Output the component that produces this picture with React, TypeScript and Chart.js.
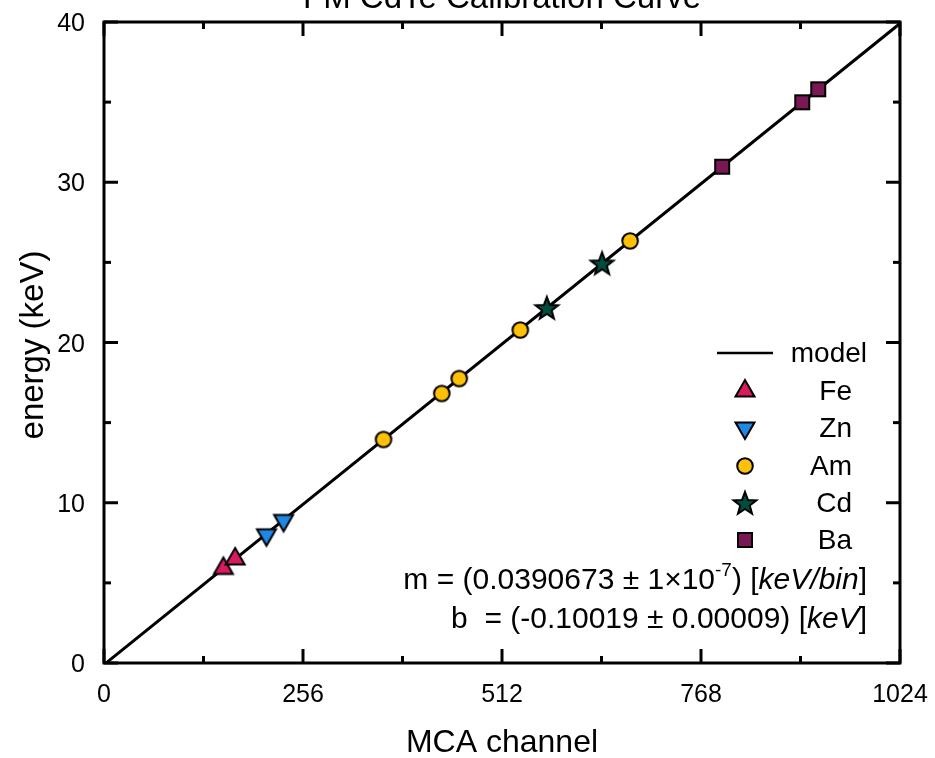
import React, { useEffect, useRef } from "react";
import { Chart, registerables } from "chart.js";

Chart.register(...registerables);

// ---------- data ----------
const TITLE = "FM CdTe Calibration Curve";
const X_TITLE = "MCA channel";
const Y_TITLE = "energy (keV)";

const X_MAJOR = [0, 256, 512, 768, 1024];
const X_MINOR = [128, 384, 640, 896];
const Y_MAJOR = [0, 10, 20, 30, 40];
const Y_MINOR = [5, 15, 25, 35];
const X_TICK_LABELS = ["0", "256", "512", "768", "1024"];
const Y_TICK_LABELS = ["0", "10", "20", "30", "40"];

const feChannels = [153.6, 168.7];
const feEnergies = [5.9, 6.49];
const znChannels = [209.0, 231.0];
const znEnergies = [8.0, 8.9];
const amChannels = [359.6, 434.5, 457.0, 535.5, 676.8];
const amEnergies = [13.95, 16.82, 17.75, 20.78, 26.34];
const cdChannels = [569.7, 640.8];
const cdEnergies = [22.16, 24.94];
const baChannels = [795.2, 898.2, 918.8];
const baEnergies = [30.97, 34.99, 35.8];
const modelChannels = [0, 1024];
const modelEnergies = [-0.10019, 39.904];

const SERIES = ["Fe", "Zn", "Am", "Cd", "Ba"];
const SERIES_COLORS = ["#D81B60", "#1E88E5", "#FFC107", "#004D40", "#7A1855"];

const FONT = "'Liberation Sans', Arial, Helvetica, sans-serif";

// ---------- markers ----------
function makeMarker(shape: string, fill: string): HTMLCanvasElement {
  const size = 32;
  const c = document.createElement("canvas");
  c.width = size;
  c.height = size;
  const ctx = c.getContext("2d")!;
  const cx = size / 2;
  const cy = size / 2;
  ctx.fillStyle = fill;
  ctx.strokeStyle = "#000";
  ctx.lineWidth = 2;
  ctx.lineJoin = "miter";
  ctx.beginPath();
  if (shape === "circle") {
    ctx.arc(cx, cy, 7.8, 0, Math.PI * 2);
  } else if (shape === "triUp" || shape === "triDown") {
    const w = 19;
    const h = (w * Math.sqrt(3)) / 2;
    const s = shape === "triUp" ? 1 : -1;
    ctx.moveTo(cx, cy - (s * 2 * h) / 3);
    ctx.lineTo(cx + w / 2, cy + (s * h) / 3);
    ctx.lineTo(cx - w / 2, cy + (s * h) / 3);
    ctx.closePath();
  } else if (shape === "square") {
    ctx.rect(cx - 7, cy - 7, 14, 14);
  } else if (shape === "star") {
    const R = 12;
    const r = 5;
    for (let i = 0; i < 10; i++) {
      const ang = -Math.PI / 2 + (i * Math.PI) / 5;
      const rad = i % 2 === 0 ? R : r;
      const px = cx + rad * Math.cos(ang);
      const py = cy + 1 + rad * Math.sin(ang);
      if (i === 0) ctx.moveTo(px, py);
      else ctx.lineTo(px, py);
    }
    ctx.closePath();
  }
  ctx.fill();
  ctx.stroke();
  return c;
}

function drawRich(
  ctx: CanvasRenderingContext2D,
  parts: { t: string; kind: string }[],
  rightX: number,
  midY: number,
  size: number
) {
  const fontFor = (k: string) =>
    k === "italic"
      ? `italic ${size}px ${FONT}`
      : k === "sup"
      ? `${Math.round(size * 0.62)}px ${FONT}`
      : `${size}px ${FONT}`;
  let total = 0;
  const widths = parts.map((p) => {
    ctx.font = fontFor(p.kind);
    const w = ctx.measureText(p.t).width;
    total += w;
    return w;
  });
  let x = rightX - total;
  ctx.textAlign = "left";
  ctx.textBaseline = "alphabetic";
  const base = midY + size * 0.36;
  parts.forEach((p, i) => {
    ctx.font = fontFor(p.kind);
    ctx.fillText(p.t, x, p.kind === "sup" ? base - size * 0.42 : base);
    x += widths[i];
  });
}

export default function App() {
  const ref = useRef<HTMLCanvasElement | null>(null);

  useEffect(() => {
    const canvas = ref.current!;
    const markers = [
      makeMarker("triUp", SERIES_COLORS[0]),
      makeMarker("triDown", SERIES_COLORS[1]),
      makeMarker("circle", SERIES_COLORS[2]),
      makeMarker("star", SERIES_COLORS[3]),
      makeMarker("square", SERIES_COLORS[4]),
    ];
    const chans = [feChannels, znChannels, amChannels, cdChannels, baChannels];
    const ens = [feEnergies, znEnergies, amEnergies, cdEnergies, baEnergies];

    const pointSets = SERIES.map((name, i) => ({
      type: "scatter" as const,
      label: name,
      data: chans[i].map((c, j) => ({ x: c, y: ens[i][j] })),
      pointStyle: markers[i],
      pointRadius: 8,
      pointHoverRadius: 8,
      order: 0,
    }));

    const decor = {
      id: "decor",
      afterDraw(chart: any) {
        const ctx: CanvasRenderingContext2D = chart.ctx;
        const a = chart.chartArea;
        const xs = chart.scales.x;
        const ys = chart.scales.y;
        ctx.save();
        ctx.strokeStyle = "#000";
        ctx.lineWidth = 3;
        ctx.lineCap = "butt";
        const major = 14;
        const minor = 7;
        const tick = (x1: number, y1: number, x2: number, y2: number) => {
          ctx.beginPath();
          ctx.moveTo(x1, y1);
          ctx.lineTo(x2, y2);
          ctx.stroke();
        };
        X_MAJOR.forEach((v) => {
          const px = xs.getPixelForValue(v);
          tick(px, a.bottom, px, a.bottom - major);
          tick(px, a.top, px, a.top + major);
        });
        X_MINOR.forEach((v) => {
          const px = xs.getPixelForValue(v);
          tick(px, a.bottom, px, a.bottom - minor);
          tick(px, a.top, px, a.top + minor);
        });
        Y_MAJOR.forEach((v) => {
          const py = ys.getPixelForValue(v);
          tick(a.left, py, a.left + major, py);
          tick(a.right, py, a.right - major, py);
        });
        Y_MINOR.forEach((v) => {
          const py = ys.getPixelForValue(v);
          tick(a.left, py, a.left + minor, py);
          tick(a.right, py, a.right - minor, py);
        });
        ctx.strokeRect(a.left, a.top, a.right - a.left, a.bottom - a.top);

        ctx.fillStyle = "#000";
        // tick labels
        ctx.font = `25px ${FONT}`;
        ctx.textBaseline = "alphabetic";
        ctx.textAlign = "center";
        X_MAJOR.forEach((v, i) => {
          ctx.fillText(X_TICK_LABELS[i], xs.getPixelForValue(v), 702);
        });
        ctx.textAlign = "right";
        Y_MAJOR.forEach((v, i) => {
          ctx.fillText(Y_TICK_LABELS[i], 85, ys.getPixelForValue(v) + 9);
        });

        // title (partially cut at the top)
        ctx.font = `33px ${FONT}`;
        ctx.textAlign = "center";
        ctx.textBaseline = "alphabetic";
        ctx.fillText(TITLE, (a.left + a.right) / 2, 8);
        // x title
        ctx.font = `32px ${FONT}`;
        ctx.fillText(X_TITLE, (a.left + a.right) / 2, 752);
        // y title
        ctx.save();
        ctx.font = `33px ${FONT}`;
        ctx.translate(43, 345);
        ctx.rotate(-Math.PI / 2);
        ctx.fillText(Y_TITLE, 0, 0);
        ctx.restore();

        // legend
        const rowY = [353, 391, 428, 466, 503, 540];
        ctx.lineWidth = 2.5;
        tick(717, rowY[0], 773, rowY[0]);
        ctx.font = `28px ${FONT}`;
        ctx.textAlign = "right";
        ctx.textBaseline = "middle";
        ctx.fillText("model", 867, rowY[0] + 1);
        SERIES.forEach((name, i) => {
          const m = markers[i];
          ctx.drawImage(m, 745 - m.width / 2, rowY[i + 1] - m.height / 2);
          ctx.fillText(name, 852, rowY[i + 1] + 1);
        });

        // fit annotation
        drawRich(
          ctx,
          [
            { t: "m = (0.0390673 \u00B1 1\u00D710", kind: "n" },
            { t: "-7", kind: "sup" },
            { t: ") [", kind: "n" },
            { t: "keV/bin", kind: "italic" },
            { t: "]", kind: "n" },
          ],
          867,
          578,
          30
        );
        drawRich(
          ctx,
          [
            { t: "b  = (-0.10019 \u00B1 0.00009) [", kind: "n" },
            { t: "keV", kind: "italic" },
            { t: "]", kind: "n" },
          ],
          867,
          617,
          30
        );
        ctx.restore();
      },
    };

    const chart = new Chart(canvas, {
      type: "scatter",
      data: {
        datasets: [
          ...pointSets,
          {
            type: "line" as const,
            label: "model",
            data: modelChannels.map((c, j) => ({ x: c, y: modelEnergies[j] })),
            borderColor: "#000",
            borderWidth: 3,
            pointRadius: 0,
            showLine: true,
            fill: false,
            order: 10,
          } as any,
        ],
      },
      options: {
        animation: false,
        responsive: false,
        devicePixelRatio: 1,
        layout: { padding: { top: 22, right: 35, left: 0, bottom: 0 } },
        plugins: {
          legend: { display: false },
          tooltip: { enabled: false },
          title: { display: false },
        },
        scales: {
          x: {
            type: "linear",
            min: 0,
            max: 1024,
            afterFit: (s: any) => {
              s.height = 95;
              s.paddingLeft = 0;
              s.paddingRight = 0;
            },
            ticks: { display: false },
            grid: { display: false, drawTicks: false },
            border: { display: false },
          },
          y: {
            type: "linear",
            min: 0,
            max: 40,
            afterFit: (s: any) => {
              s.width = 104;
              s.paddingTop = 0;
              s.paddingBottom = 0;
            },
            ticks: { display: false },
            grid: { display: false, drawTicks: false },
            border: { display: false },
          },
        },
      },
      plugins: [decor],
    } as any);

    return () => chart.destroy();
  }, []);

  return (
    <div style={{ position: "absolute", left: 0, top: 0, width: 935, height: 758, background: "#fff" }}>
      <canvas ref={ref} width={935} height={758} style={{ display: "block", width: 935, height: 758 }} />
    </div>
  );
}
